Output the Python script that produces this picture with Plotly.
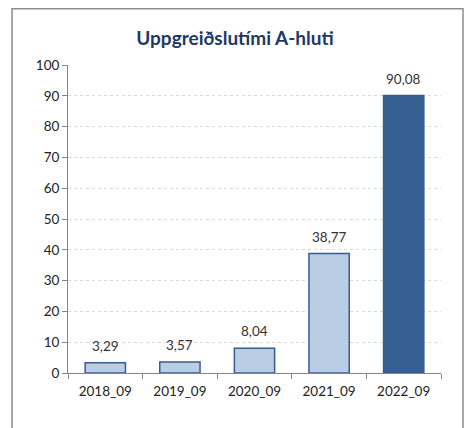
import plotly.graph_objects as go

categories = ['2018_09', '2019_09', '2020_09', '2021_09', '2022_09']
values = [3.29, 3.57, 8.04, 38.77, 90.08]
bar_colors = ['#B9CDE5', '#B9CDE5', '#B9CDE5', '#B9CDE5', '#366092']
y_ticks = [0, 10, 20, 30, 40, 50, 60, 70, 80, 90, 100]

fig = go.Figure()

fig.add_trace(go.Bar(
    x=categories,
    y=values,
    marker_color=bar_colors,
    marker_line=dict(color='#385D8A', width=1.5),
    width=0.54,
    cliponaxis=False,
))

# data labels, a bit above each bar
for cat, val in zip(categories, values):
    fig.add_annotation(
        x=cat, y=val,
        text=f'{val:.2f}'.replace('.', ','),
        showarrow=False,
        yanchor='bottom',
        yshift=7,
        font=dict(size=13.5, color='#333333'),
    )

fig.update_layout(
    width=473,
    height=428,
    font=dict(family='Lato, Liberation Sans, sans-serif', size=13.5, color='#222222'),
    title=dict(
        text='<b>Uppgreiðslutími A-hluti</b>',
        x=227 / 473, xref='container', xanchor='center',
        y=1 - 30 / 428, yref='container', yanchor='middle',
        font=dict(size=19, color='#1F3864'),
    ),
    margin=dict(l=60, r=40, t=57, b=63),
    plot_bgcolor='white',
    paper_bgcolor='white',
    showlegend=False,
)

fig.update_yaxes(
    range=[0, 100],
    tickvals=y_ticks,
    showgrid=True,
    gridcolor='#D9D9D9',
    griddash='dot',
    showline=True,
    linecolor='#868686',
    linewidth=1,
    ticks='outside',
    ticklen=5,
    tickcolor='#868686',
    zeroline=False,
)

fig.update_xaxes(
    showline=True,
    linecolor='#868686',
    linewidth=1,
    ticks='outside',
    tickson='boundaries',
    ticklen=5,
    tickcolor='#868686',
    ticklabelstandoff=6,
    showgrid=False,
)

# outer chart border
fig.add_shape(
    type='rect', xref='paper', yref='paper',
    x0=-0.150, x1=1.059, y0=-0.25, y1=1.1826,
    line=dict(color='#8C8C8C', width=1.5),
    fillcolor='rgba(0,0,0,0)',
    layer='below',
)

fig.write_html('out.html')
